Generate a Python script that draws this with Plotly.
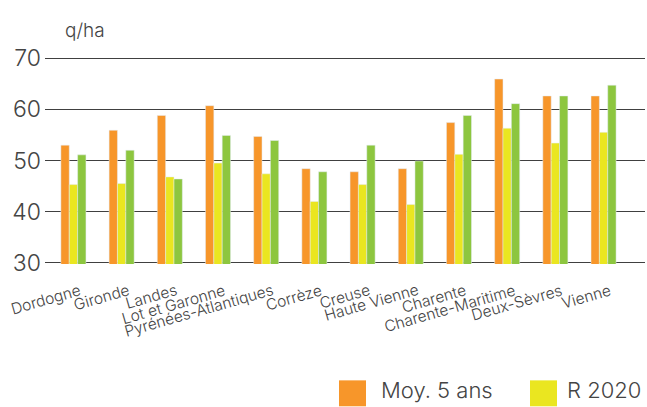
import plotly.graph_objects as go

departements = ["Dordogne", "Gironde", "Landes", "Lot et Garonne", "Pyrénées-Atlantiques",
                "Corrèze", "Creuse", "Haute Vienne", "Charente", "Charente-Maritime",
                "Deux-Sèvres", "Vienne"]
moy_5_ans = [53.0, 55.9, 58.8, 60.7, 54.7, 48.4, 47.8, 48.4, 57.4, 65.9, 62.6, 62.6]
r_2020 = [45.3, 45.5, 46.8, 49.5, 47.4, 42.0, 45.3, 41.4, 51.2, 56.3, 53.4, 55.5]
r_green = [51.1, 52.0, 46.4, 54.9, 53.9, 47.8, 53.0, 49.9, 58.8, 61.1, 62.6, 64.7]
y_ticks = [30, 40, 50, 60, 70]
unit_label = "q/ha"
legend_names = ["Moy. 5 ans", "R 2020"]

ORANGE = "#F7962A"
YELLOW = "#EAE620"
GREEN = "#8DC63F"
TXT = "#444444"
FONT = "Inter"

idx = list(range(len(departements)))

fig = go.Figure()
fig.add_trace(go.Bar(x=idx, y=moy_5_ans, name=legend_names[0], marker_color=ORANGE,
                     showlegend=False))
fig.add_trace(go.Bar(x=idx, y=r_2020, name=legend_names[1], marker_color=YELLOW,
                     showlegend=False))
fig.add_trace(go.Bar(x=idx, y=r_green, name="R 2021", marker_color=GREEN,
                     showlegend=False))

# x labels as rotated annotations
for i, lab in enumerate(departements):
    fig.add_annotation(x=i, y=0, xref="x", yref="paper", text=lab, showarrow=False,
                       textangle=-16, xanchor="right", yanchor="top", xshift=12, yshift=-14,
                       font=dict(family=FONT, size=15.5, color=TXT, weight=300))

# unit label
fig.add_annotation(x=(63 - 45) / 600.0, y=1.0, xref="paper", yref="paper", text=unit_label,
                   showarrow=False, xanchor="left", yanchor="bottom", yshift=13,
                   font=dict(family=FONT, size=19, color=TXT, weight=300))

# custom legend
def px2paper_x(px):
    return (px - 45) / 600.0

def px2paper_y(py):
    return (264.3 - py) / 207.6

for (x0, x1, col, tx, name) in [(339, 366, ORANGE, 379, legend_names[0]),
                                (530, 557, YELLOW, 565, legend_names[1])]:
    fig.add_shape(type="rect", xref="paper", yref="paper",
                  x0=px2paper_x(x0), x1=px2paper_x(x1),
                  y0=px2paper_y(407), y1=px2paper_y(381),
                  fillcolor=col, line_width=0)
    fig.add_annotation(x=px2paper_x(tx), y=px2paper_y(391), xref="paper", yref="paper",
                       text=name, showarrow=False, xanchor="left", yanchor="middle",
                       font=dict(family=FONT, size=22, color=TXT, weight=300))

fig.update_layout(
    width=647, height=407,
    margin=dict(l=45, r=2, t=57, b=143),
    paper_bgcolor="white", plot_bgcolor="white",
    barmode="group", bargap=0.48, bargroupgap=0,
    xaxis=dict(range=[-0.59, 11.86], showticklabels=False, showgrid=False,
               zeroline=False, ticks=""),
    yaxis=dict(range=[29.8, 70.2], tickvals=y_ticks, showgrid=True, gridcolor="#404040",
               gridwidth=1.3, zeroline=False, ticks="",
               tickfont=dict(family=FONT, size=23, color=TXT, weight=300),
               ticklabelstandoff=3),
    font=dict(family=FONT, color=TXT),
)

fig.write_html("out.html", config={"displayModeBar": False},
               post_script="document.body.style.margin='0';")
